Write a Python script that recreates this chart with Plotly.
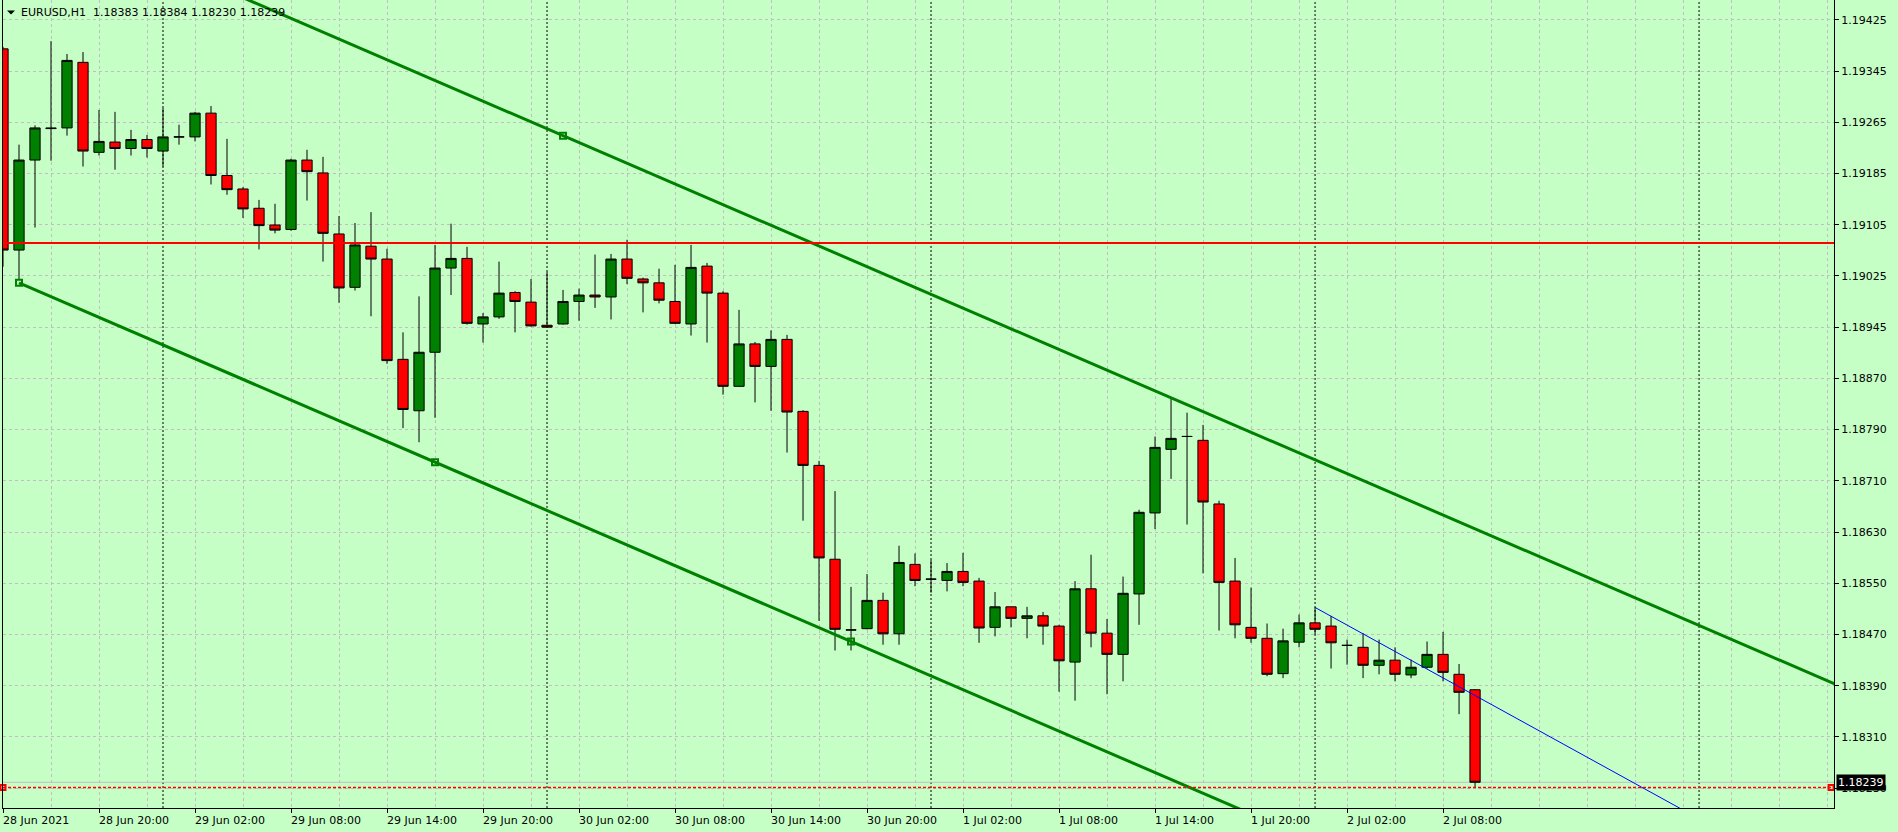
import numpy as np
import pandas as pd
import plotly.graph_objects as go

# ---------------- data ----------------
start_time = "2021-06-28 14:00"
n_bars = 93
times = pd.date_range(start_time, periods=n_bars, freq="h")

opens = [1.19380, 1.19067, 1.19207, 1.19257, 1.19257, 1.19359, 1.19219, 1.19235, 1.19225, 1.19239,
         1.19221, 1.19243, 1.19243, 1.19280, 1.19183, 1.19162, 1.19132, 1.19106, 1.19099, 1.19207,
         1.19187, 1.19092, 1.19009, 1.19073, 1.19053, 1.18897, 1.18817, 1.18908, 1.19039, 1.19054,
         1.18952, 1.18963, 1.19001, 1.18986, 1.18950, 1.18952, 1.18987, 1.18997, 1.18994, 1.19053,
         1.19022, 1.19016, 1.18987, 1.18952, 1.19042, 1.19000, 1.18855, 1.18921, 1.18886, 1.18928,
         1.18816, 1.18732, 1.18586, 1.18476, 1.18478, 1.18522, 1.18470, 1.18578, 1.18555, 1.18553,
         1.18567, 1.18552, 1.18480, 1.18512, 1.18494, 1.18498, 1.18482, 1.18426, 1.18540, 1.18471,
         1.18438, 1.18532, 1.18658, 1.18757, 1.18777, 1.18771, 1.18672, 1.18552, 1.18480, 1.18463,
         1.18408, 1.18457, 1.18487, 1.18482, 1.18452, 1.18449, 1.18421, 1.18429, 1.18406, 1.18418,
         1.18438, 1.18407, 1.18383]
highs = [1.19383, 1.19231, 1.19261, 1.19392, 1.19372, 1.19375, 1.19285, 1.19282, 1.19254, 1.19246,
         1.19288, 1.19262, 1.19282, 1.19291, 1.19240, 1.19165, 1.19145, 1.19139, 1.19209, 1.19223,
         1.19212, 1.19120, 1.19109, 1.19126, 1.19069, 1.18939, 1.18995, 1.19075, 1.19108, 1.19072,
         1.18969, 1.19049, 1.19003, 1.19022, 1.19033, 1.19005, 1.19007, 1.19060, 1.19061, 1.19083,
         1.19024, 1.19038, 1.19044, 1.19075, 1.19047, 1.19003, 1.18974, 1.18924, 1.18942, 1.18935,
         1.18818, 1.18739, 1.18692, 1.18543, 1.18563, 1.18534, 1.18607, 1.18595, 1.18585, 1.18580,
         1.18596, 1.18557, 1.18535, 1.18512, 1.18512, 1.18504, 1.18484, 1.18552, 1.18593, 1.18493,
         1.18559, 1.18663, 1.18777, 1.18837, 1.18814, 1.18795, 1.18677, 1.18588, 1.18542, 1.18486,
         1.18478, 1.18500, 1.18511, 1.18498, 1.18461, 1.18471, 1.18461, 1.18449, 1.18430, 1.18458,
         1.18473, 1.18423, 1.18384]
lows = [1.19041, 1.19021, 1.19102, 1.19206, 1.19245, 1.19197, 1.19214, 1.19192, 1.19214, 1.19211,
        1.19197, 1.19231, 1.19236, 1.19169, 1.19153, 1.19117, 1.19068, 1.19093, 1.19097, 1.19144,
        1.19049, 1.18985, 1.19004, 1.18964, 1.18890, 1.18790, 1.18768, 1.18806, 1.18997, 1.18951,
        1.18923, 1.18960, 1.18939, 1.18948, 1.18946, 1.18951, 1.18957, 1.18977, 1.18959, 1.19014,
        1.18970, 1.18984, 1.18952, 1.18934, 1.18923, 1.18842, 1.18854, 1.18830, 1.18817, 1.18752,
        1.18646, 1.18490, 1.18444, 1.18444, 1.18477, 1.18453, 1.18453, 1.18544, 1.18534, 1.18536,
        1.18544, 1.18456, 1.18466, 1.18480, 1.18463, 1.18453, 1.18380, 1.18366, 1.18449, 1.18376,
        1.18396, 1.18484, 1.18633, 1.18711, 1.18640, 1.18564, 1.18475, 1.18463, 1.18456, 1.18404,
        1.18401, 1.18449, 1.18469, 1.18416, 1.18422, 1.18401, 1.18407, 1.18396, 1.18401, 1.18416,
        1.18396, 1.18345, 1.18230]
closes = [1.19067, 1.19207, 1.19257, 1.19256, 1.19362, 1.19221, 1.19236, 1.19225, 1.19239, 1.19225,
          1.19243, 1.19243, 1.19280, 1.19183, 1.19161, 1.19131, 1.19105, 1.19098, 1.19207, 1.19189,
          1.19093, 1.19008, 1.19075, 1.19053, 1.18895, 1.18819, 1.18908, 1.19039, 1.19054, 1.18953,
          1.18963, 1.19000, 1.18987, 1.18949, 1.18947, 1.18987, 1.18997, 1.18994, 1.19053, 1.19023,
          1.19016, 1.18989, 1.18953, 1.19040, 1.19000, 1.18855, 1.18921, 1.18886, 1.18928, 1.18815,
          1.18732, 1.18588, 1.18477, 1.18476, 1.18522, 1.18470, 1.18581, 1.18553, 1.18555, 1.18567,
          1.18550, 1.18479, 1.18512, 1.18494, 1.18498, 1.18482, 1.18428, 1.18540, 1.18471, 1.18438,
          1.18533, 1.18659, 1.18760, 1.18774, 1.18777, 1.18675, 1.18550, 1.18484, 1.18463, 1.18407,
          1.18459, 1.18487, 1.18477, 1.18456, 1.18452, 1.18421, 1.18429, 1.18407, 1.18418, 1.18438,
          1.18410, 1.18379, 1.18239]

symbol_name = "EURUSD,H1"

# price scale labels (as printed on the right axis)
price_labels = ["1.19425", "1.19345", "1.19265", "1.19185", "1.19105", "1.19025", "1.18945", "1.18870",
                "1.18790", "1.18710", "1.18630", "1.18550", "1.18470", "1.18390", "1.18310", "1.18230"]
price_range = [1.18199, 1.19456]

# time scale labels
time_labels = ["28 Jun 2021", "28 Jun 20:00", "29 Jun 02:00", "29 Jun 08:00", "29 Jun 14:00", "29 Jun 20:00",
               "30 Jun 02:00", "30 Jun 08:00", "30 Jun 14:00", "30 Jun 20:00", "1 Jul 02:00", "1 Jul 08:00",
               "1 Jul 14:00", "1 Jul 20:00", "2 Jul 02:00", "2 Jul 08:00"]
time_range = ["2021-06-28 14:00", "2021-07-03 08:26"]

# chart objects
channel_lower_times = ["2021-06-28 15:00", "2021-06-30 19:00"]
channel_lower_prices = [1.19016, 1.18458]
channel_mid_time = "2021-06-29 17:00"
channel_upper_time = "2021-06-30 01:00"
channel_upper_price = 1.19245
blue_times = ["2021-07-02 00:00", "2021-07-02 10:00"]
blue_prices = [1.18511, 1.18374]
ray_end_time = "2021-07-03 14:00"
resistance_level = 1.19078
low_level = 1.18231
low_level_times = ["2021-06-28 14:00", "2021-07-03 08:15"]
bid_price = 1.18239

# ---------------- helpers ----------------
def hours(t):
    return (pd.Timestamp(t) - pd.Timestamp(start_time)) / pd.Timedelta(hours=1)

def line_value(t, t_pts, p_pts):
    h0, h1 = hours(t_pts[0]), hours(t_pts[1])
    return p_pts[0] + (p_pts[1] - p_pts[0]) * (hours(t) - h0) / (h1 - h0)

slope_shift = channel_upper_price - line_value(channel_upper_time, channel_lower_times, channel_lower_prices)

BG = "#C6FFC6"
GRID = "#C4BCC4"
GREEN = "#008000"
FONT = "DejaVu Sans"

fig = go.Figure()

fig.add_trace(go.Candlestick(
    x=times, open=opens, high=highs, low=lows, close=closes,
    increasing=dict(line=dict(color="black", width=1), fillcolor=GREEN),
    decreasing=dict(line=dict(color="black", width=1), fillcolor="#FF0000"),
    whiskerwidth=0, showlegend=False, hoverinfo="skip",
))

# equidistant channel (lower and upper lines)
lx = [channel_lower_times[0], ray_end_time]
fig.add_trace(go.Scatter(
    x=lx, y=[line_value(t, channel_lower_times, channel_lower_prices) for t in lx],
    mode="lines", line=dict(color=GREEN, width=3), showlegend=False, hoverinfo="skip"))
fig.add_trace(go.Scatter(
    x=lx, y=[line_value(t, channel_lower_times, channel_lower_prices) + slope_shift for t in lx],
    mode="lines", line=dict(color=GREEN, width=3), showlegend=False, hoverinfo="skip"))
mk_t = [channel_lower_times[0], channel_mid_time, channel_lower_times[1]]
fig.add_trace(go.Scatter(
    x=mk_t + [channel_upper_time],
    y=[line_value(t, channel_lower_times, channel_lower_prices) for t in mk_t] + [channel_upper_price],
    mode="markers", marker=dict(symbol="square-open", size=6, color=GREEN, line=dict(width=2, color=GREEN)),
    showlegend=False, hoverinfo="skip"))

# blue trend ray
bx = [blue_times[0], ray_end_time]
fig.add_trace(go.Scatter(
    x=bx, y=[line_value(t, blue_times, blue_prices) for t in bx],
    mode="lines", line=dict(color="#0000FF", width=1), showlegend=False, hoverinfo="skip"))

# red dotted low line with end markers
fig.add_trace(go.Scatter(
    x=low_level_times, y=[low_level, low_level], mode="lines+markers",
    line=dict(color="#FF0000", width=1.5, dash="3px,2px"),
    marker=dict(symbol="square-open", size=5, color="#FF0000", line=dict(width=2, color="#FF0000")),
    showlegend=False, hoverinfo="skip", cliponaxis=False))

shapes = []
# day separators
for d in pd.date_range("2021-06-29", "2021-07-03", freq="D"):
    shapes.append(dict(type="line", xref="x", yref="paper", x0=d, x1=d, y0=0, y1=1,
                       line=dict(color="black", width=1, dash="2px,2px"), layer="below"))
# resistance line
shapes.append(dict(type="line", xref="paper", yref="y", x0=0, x1=1, y0=resistance_level, y1=resistance_level,
                   line=dict(color="#FF0000", width=2), layer="above"))
# bid line
shapes.append(dict(type="line", xref="paper", yref="y", x0=0, x1=1, y0=bid_price, y1=bid_price,
                   line=dict(color="#C0C0C0", width=1), layer="below"))
# small menu triangle
shapes.append(dict(type="path", xref="paper", yref="paper", xsizemode="pixel", ysizemode="pixel",
                   xanchor=0, yanchor=1, path="M 4 -10.5 L 12 -10.5 L 8 -14.5 Z",
                   fillcolor="black", line=dict(width=0)))

grid_times = pd.date_range(start_time, "2021-07-03 08:00", freq="3h")

fig.update_layout(
    width=1898, height=832,
    margin=dict(l=3, r=64, t=0, b=24, autoexpand=False),
    paper_bgcolor=BG, plot_bgcolor=BG,
    font=dict(family=FONT, size=11, color="black"),
    showlegend=False, hovermode=False,
    shapes=shapes,
    boxgap=0.36, boxgroupgap=0,
    xaxis=dict(
        type="date", range=time_range, rangeslider=dict(visible=False), automargin=False,
        tickmode="array", tickvals=list(times[::6]), ticktext=time_labels,
        ticks="outside", ticklen=4, tickcolor="black", ticklabelposition="outside right",
        ticklabelstandoff=2, ticklabelshift=-1, ticklabeloverflow="allow",
        showline=True, linecolor="black", linewidth=1,
        showgrid=True, gridcolor=GRID, griddash="3px,3px", gridwidth=1,
        minor=dict(tickmode="array", tickvals=list(grid_times), showgrid=True,
                   gridcolor=GRID, griddash="3px,3px", ticklen=0),
        zeroline=False, tickfont=dict(family=FONT, size=11, color="black"),
    ),
    yaxis=dict(
        side="right", range=price_range, automargin=False,
        tickmode="array", tickvals=list(np.linspace(float(price_labels[0]), float(price_labels[-1]), len(price_labels))),
        ticktext=price_labels,
        ticks="outside", ticklen=4, tickcolor="black",
        showline=True, linecolor="black", linewidth=1, mirror=True,
        showgrid=True, gridcolor=GRID, griddash="3px,3px", gridwidth=1,
        zeroline=False, tickfont=dict(family=FONT, size=11, color="black"),
    ),
    annotations=[
        dict(xref="paper", yref="paper", x=0, y=1, xanchor="left", yanchor="middle", xshift=16, yshift=-12,
             text=f"{symbol_name}  {opens[-1]:.5f} {highs[-1]:.5f} {lows[-1]:.5f} {closes[-1]:.5f}",
             showarrow=False, font=dict(family=FONT, size=11, color="black")),
        dict(xref="paper", yref="y", x=1, y=bid_price, xanchor="left", yanchor="middle", xshift=2,
             text=f"{bid_price:.5f}", showarrow=False, bgcolor="black", borderpad=1,
             font=dict(family=FONT, size=11, color="white")),
    ],
)

fig.write_html("out.html", config={"displayModeBar": False},
               post_script="document.body.style.margin='0px';document.body.style.overflow='hidden';")
